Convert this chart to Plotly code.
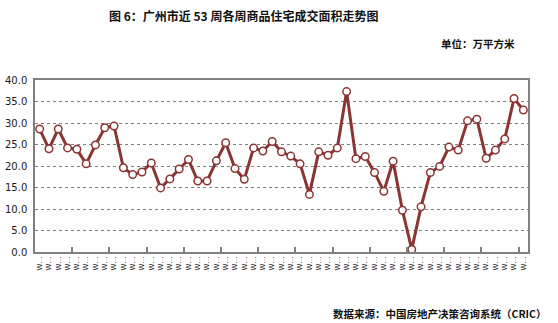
import plotly.graph_objects as go

weeks = list(range(1, 54))
tick_labels = ["W…"] * 53
area = [28.6, 24.0, 28.6, 24.2, 23.9, 20.5, 24.9, 28.9, 29.3, 19.6,
        18.0, 18.6, 20.7, 14.9, 17.0, 19.3, 21.5, 16.5, 16.5, 21.2,
        25.4, 19.4, 16.9, 24.2, 23.5, 25.7, 23.3, 22.3, 20.5, 13.4,
        23.3, 22.5, 24.2, 37.3, 21.7, 22.2, 18.5, 14.1, 21.1, 9.7,
        0.6, 10.5, 18.5, 19.9, 24.4, 23.7, 30.5, 30.9, 21.8, 23.7,
        26.3, 35.7, 33.0]
y_ticks = [0, 5, 10, 15, 20, 25, 30, 35, 40]

title = "图 6：广州市近 53 周各周商品住宅成交面积走势图"
unit = "单位：万平方米"
source = "数据来源：中国房地产决策咨询系统（CRIC）"

line_col = "#8B3434"
grid_col = "#808080"
font_bold = "Noto Sans CJK SC"

fig = go.Figure()
fig.add_trace(go.Scatter(
    x=weeks, y=area, mode="lines+markers",
    line=dict(color=line_col, width=3),
    marker=dict(size=7.5, color="white", line=dict(color=line_col, width=1.5)),
    showlegend=False, hoverinfo="skip", cliponaxis=False))
# invisible trace to render tick-boundary axis
fig.add_trace(go.Scatter(x=[weeks[0]], y=[area[0]], xaxis="x2", mode="markers",
                         marker=dict(opacity=0), showlegend=False, hoverinfo="skip"))

xr = [weeks[0] - 0.5, weeks[-1] + 0.5]
boundaries = [w - 0.5 for w in weeks[::4]]

fig.update_layout(
    width=558, height=323,
    margin=dict(l=35, r=30, t=80, b=71),
    paper_bgcolor="white", plot_bgcolor="white",
    font=dict(family="DejaVu Sans", size=10, color="#1a1a1a"),
    xaxis=dict(range=xr, tickvals=weeks, ticktext=tick_labels, tickangle=-90,
               ticks="", showgrid=False, zeroline=False, automargin=False,
               showline=True, linecolor=grid_col, linewidth=1.5, mirror=True,
               tickfont=dict(size=7, family="DejaVu Sans", color="#222")),
    xaxis2=dict(range=xr, overlaying="x", anchor="y", side="bottom",
                tickvals=boundaries, ticks="inside", ticklen=5, tickwidth=1.5,
                tickcolor=grid_col, showticklabels=False, showgrid=False,
                zeroline=False, showline=False, automargin=False),
    yaxis=dict(range=[0, 40], tickvals=y_ticks, tickformat=".1f", automargin=False,
               showgrid=True, gridcolor=grid_col, griddash="dot", gridwidth=1,
               zeroline=False, showline=True, linecolor=grid_col, linewidth=1.5,
               mirror=True, ticks="", ticklabelstandoff=4),
    annotations=[
        dict(text=f"<b>{title}</b>", xref="paper", yref="paper",
             x=(243 - 35) / 493, y=1 + (80 - 15) / 172, xanchor="center", yanchor="middle",
             showarrow=False, font=dict(size=12, family=font_bold, color="#111")),
        dict(text=f"<b>{unit}</b>", xref="paper", yref="paper",
             x=(517 - 35) / 493, y=1 + (80 - 43) / 172, xanchor="right", yanchor="middle",
             showarrow=False, font=dict(size=10.5, family=font_bold, color="#111")),
        dict(text=f"<b>{source}</b>", xref="paper", yref="paper",
             x=(548 - 35) / 493, y=-(313 - 252) / 172, xanchor="right", yanchor="middle",
             showarrow=False, font=dict(size=10.5, family=font_bold, color="#111")),
    ],
)

fig.write_html("out.html")
